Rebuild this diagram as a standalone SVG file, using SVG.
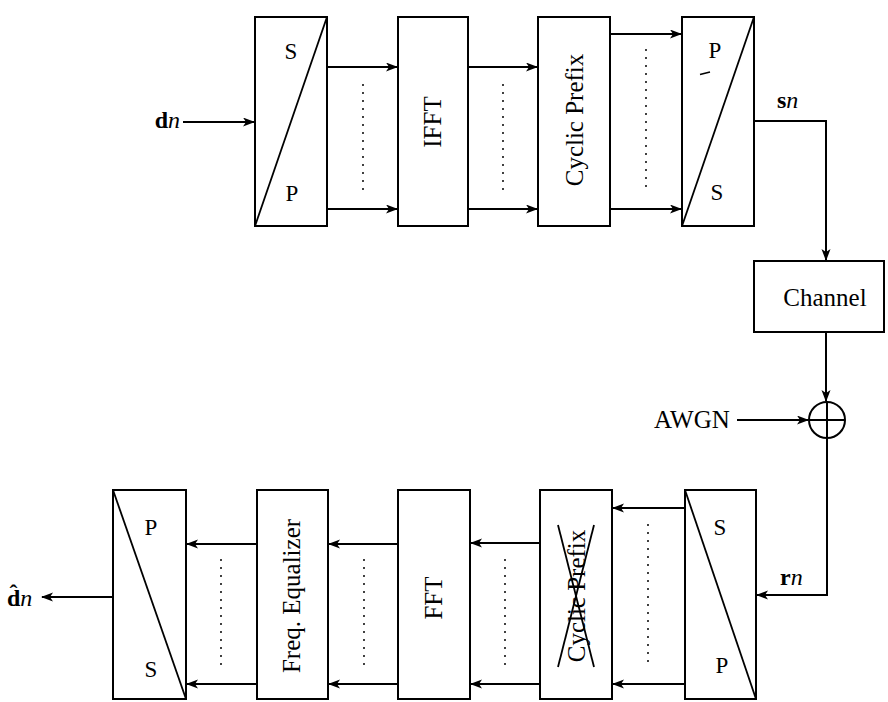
<svg xmlns="http://www.w3.org/2000/svg" width="888" height="702" viewBox="0 0 888 702">
<style>
.box{fill:#fff;stroke:#000;stroke-width:2}
.diag{stroke:#000;stroke-width:1.8;fill:none}
.lbl{font-family:"Liberation Serif","Times New Roman",serif;font-size:23px;fill:#000}
.io{font-family:"Liberation Serif","Times New Roman",serif;font-size:24px;fill:#000}
.blk{font-family:"Liberation Serif","Times New Roman",serif;font-size:25px;fill:#000}
.wire{stroke:#000;stroke-width:2;fill:none}
.arr{stroke:#000;stroke-width:2;fill:none;marker-end:url(#ah)}
.dots{stroke:#000;stroke-width:2;stroke-linecap:round;stroke-dasharray:0 8;fill:none}
</style>
<defs>
<marker id="ah" markerUnits="userSpaceOnUse" markerWidth="12" markerHeight="10" refX="11" refY="4.5" orient="auto">
<path d="M0,0 L12,4.5 L0,9 L3,4.5 z" fill="#000"/>
</marker>
</defs>
<rect width="888" height="702" fill="#fff"/>

<!-- Transmitter row -->
<g id="sp_tx">
<rect class="box" x="255" y="17" width="72" height="209"/>
<line class="diag" x1="255" y1="226" x2="327" y2="17"/>
<text class="lbl" x="291" y="59" text-anchor="middle">S</text>
<text class="lbl" x="292" y="201" text-anchor="middle">P</text>
</g>
<g id="ifft">
<rect class="box" x="398" y="17" width="70" height="209"/>
<text class="blk" transform="translate(441,122) rotate(-90)" text-anchor="middle">IFFT</text>
</g>
<g id="cp_add">
<rect class="box" x="538" y="17" width="72" height="209"/>
<text class="blk" transform="translate(583,120) rotate(-90)" text-anchor="middle">Cyclic Prefix</text>
</g>
<g id="ps_tx">
<rect class="box" x="682" y="17" width="72" height="209"/>
<line class="diag" x1="682" y1="226" x2="754" y2="17"/>
<text class="lbl" x="715" y="58" text-anchor="middle">P</text>
<text class="lbl" x="717" y="200" text-anchor="middle">S</text>
<path d="M700,74.5 L710,72" stroke="#000" stroke-width="1.5"/>
</g>

<g id="channel">
<rect class="box" x="754" y="261" width="130" height="71"/>
<text class="blk" x="825" y="306" text-anchor="middle">Channel</text>
</g>
<g id="adder">
<circle cx="827" cy="420" r="18" fill="#fff" stroke="#000" stroke-width="2"/>
<line x1="809" y1="420" x2="845" y2="420" stroke="#000" stroke-width="2"/>
<line x1="827" y1="402" x2="827" y2="438" stroke="#000" stroke-width="2"/>
</g>

<!-- Receiver row -->
<g id="sp_rx">
<rect class="box" x="685" y="490" width="71" height="209"/>
<line class="diag" x1="685" y1="490" x2="756" y2="699"/>
<text class="lbl" x="720" y="535" text-anchor="middle">S</text>
<text class="lbl" x="722" y="673" text-anchor="middle">P</text>
</g>
<g id="cp_remove">
<rect class="box" x="540" y="490" width="72" height="209"/>
<text class="blk" transform="translate(585,596) rotate(-90)" text-anchor="middle">Cyclic Prefix</text>
<line class="diag" x1="558" y1="525" x2="594" y2="667"/>
<line class="diag" x1="594" y1="525" x2="558" y2="667"/>
</g>
<g id="fft">
<rect class="box" x="398" y="490" width="72" height="209"/>
<text class="blk" transform="translate(442,598) rotate(-90)" text-anchor="middle">FFT</text>
</g>
<g id="freq_eq">
<rect class="box" x="257" y="490" width="71" height="209"/>
<text class="blk" transform="translate(300,596) rotate(-90)" text-anchor="middle">Freq. Equalizer</text>
</g>
<g id="ps_rx">
<rect class="box" x="113" y="490" width="73" height="209"/>
<line class="diag" x1="113" y1="490" x2="186" y2="699"/>
<text class="lbl" x="151" y="535" text-anchor="middle">P</text>
<text class="lbl" x="151" y="677" text-anchor="middle">S</text>
</g>

<!-- Labels -->
<g id="labels">
<text class="io" x="180" y="128" text-anchor="end"><tspan font-weight="bold">d</tspan><tspan font-style="italic">n</tspan></text>
<text class="io" x="777" y="108"><tspan font-weight="bold">s</tspan><tspan font-style="italic">n</tspan></text>
<text class="io" x="780" y="585"><tspan font-weight="bold">r</tspan><tspan font-style="italic">n</tspan></text>
<text class="blk" x="654" y="428">AWGN</text>
<text class="io" x="7" y="606"><tspan font-weight="bold">d&#x302;</tspan><tspan font-style="italic">n</tspan></text>
</g>

<!-- Connectors -->
<g id="connectors">
<line class="arr" x1="183" y1="122" x2="254" y2="122"/>
<line class="arr" x1="327" y1="67" x2="397" y2="67"/>
<line class="arr" x1="327" y1="209" x2="397" y2="209"/>
<line class="arr" x1="468" y1="67" x2="537" y2="67"/>
<line class="arr" x1="468" y1="209" x2="537" y2="209"/>
<line class="arr" x1="610" y1="34" x2="681" y2="34"/>
<line class="arr" x1="610" y1="209" x2="681" y2="209"/>
<polyline class="arr" points="754,121 826,121 826,260"/>
<line class="arr" x1="826" y1="332" x2="826" y2="401"/>
<line class="arr" x1="737" y1="420" x2="808" y2="420"/>
<polyline class="arr" points="827,438 827,595 757,595"/>
<line class="arr" x1="685" y1="508" x2="613" y2="508"/>
<line class="arr" x1="685" y1="684" x2="613" y2="684"/>
<line class="arr" x1="540" y1="543" x2="471" y2="543"/>
<line class="arr" x1="540" y1="684" x2="471" y2="684"/>
<line class="arr" x1="398" y1="544" x2="329" y2="544"/>
<line class="arr" x1="398" y1="684" x2="329" y2="684"/>
<line class="arr" x1="257" y1="544" x2="187" y2="544"/>
<line class="arr" x1="257" y1="684" x2="187" y2="684"/>
<line class="arr" x1="113" y1="597" x2="42" y2="597"/>
<line class="dots" x1="363" y1="85" x2="363" y2="190"/>
<line class="dots" x1="503" y1="85" x2="503" y2="190"/>
<line class="dots" x1="646" y1="50" x2="646" y2="190"/>
<line class="dots" x1="221" y1="560" x2="221" y2="667"/>
<line class="dots" x1="364" y1="560" x2="364" y2="667"/>
<line class="dots" x1="505" y1="560" x2="505" y2="667"/>
<line class="dots" x1="648" y1="525" x2="648" y2="667"/>
</g>
</svg>
